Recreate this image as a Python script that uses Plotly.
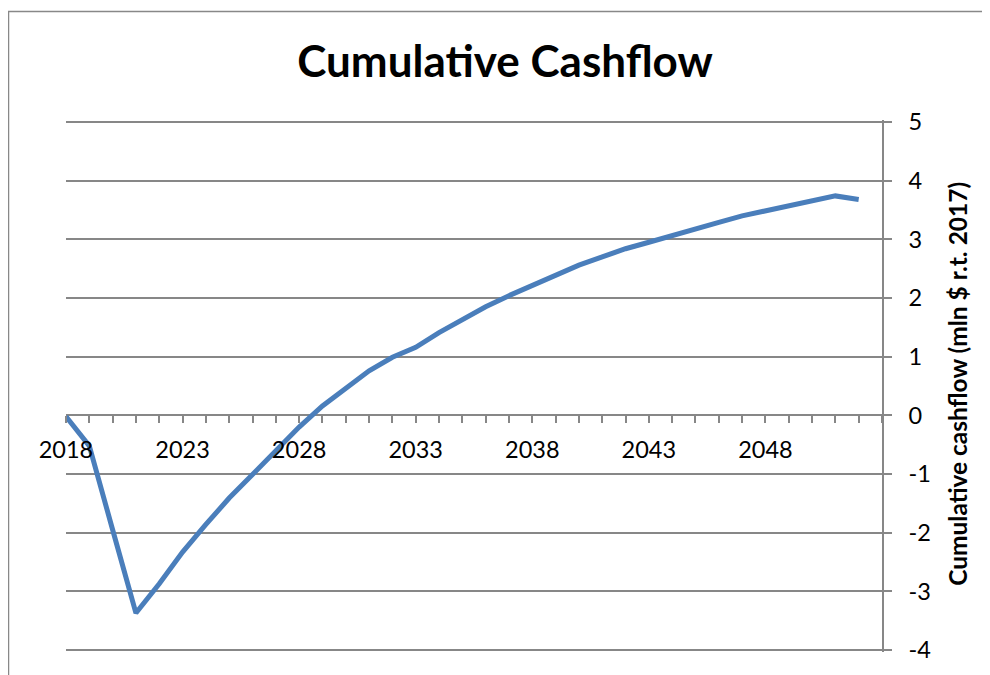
import plotly.graph_objects as go

years = list(range(2018, 2053))
cum_cashflow = [-0.02, -0.52, -1.95, -3.37, -2.87, -2.33, -1.86, -1.41, -1.01, -0.61,
                -0.20, 0.16, 0.47, 0.76, 0.99, 1.16, 1.41, 1.64, 1.85, 2.04,
                2.22, 2.39, 2.56, 2.70, 2.84, 2.95, 3.07, 3.18, 3.29, 3.40,
                3.49, 3.57, 3.66, 3.74, 3.68]

# category axis runs one year past the last data point
axis_years = list(range(2018, 2054))
axis_labels = [str(y) if (y - 2018) % 5 == 0 and y < 2053 else "" for y in axis_years]

y_ticks = list(range(-4, 6))
y_labels = [str(v) for v in y_ticks]  # plain hyphen minus, as in Excel

y_min, y_max = -4, 5
grey = "#878787"
font_name = "Lato, Carlito, Calibri, sans-serif"

# page body adds an 8px offset, so the figure is 8px smaller than the window
W, H = 982, 667

# plotly drops gridlines sitting right on the plot edge, so pad the range by 2px
ppu = 530 / (y_max - y_min)
pad = 2 / ppu

fig = go.Figure()

fig.add_trace(go.Scatter(
    x=years,
    y=cum_cashflow,
    mode="lines",
    line=dict(color="#4A7EBB", width=5),
    name="Cumulative cashflow",
    showlegend=False,
))

fig.update_layout(
    width=W, height=H,
    margin=dict(l=58, r=108, t=112, b=21),
    paper_bgcolor="white",
    plot_bgcolor="white",
    font=dict(family=font_name, color="black"),
    title=dict(
        text="<b>Cumulative Cashflow</b>",
        font=dict(size=44, family=font_name, color="black"),
        x=(505 - 8) / W, xanchor="center",
        y=1 - (62 - 8) / H, yanchor="middle",
    ),
    showlegend=False,
)

# x axis ticks sit on the zero line, like Excel's default crossing;
# the axis line itself is the y zeroline
fig.update_xaxes(
    range=[axis_years[0], axis_years[-1]],
    tickmode="array",
    tickvals=axis_years,
    ticktext=axis_labels,
    ticks="outside", ticklen=7, tickwidth=1.5, tickcolor=grey,
    tickfont=dict(size=23.5, family=font_name, color="black"),
    ticklabelstandoff=6,
    showline=False,
    showgrid=False, zeroline=False,
    anchor="free", position=(0 - (y_min - pad)) / (y_max - y_min + 2 * pad),
)

fig.update_yaxes(
    range=[y_min - pad, y_max + pad],
    tickmode="array",
    tickvals=y_ticks,
    ticktext=y_labels,
    side="right",
    ticks="outside", ticklen=8, tickwidth=1.5, tickcolor=grey,
    tickfont=dict(size=23.5, family=font_name, color="black"),
    ticklabelstandoff=12,
    showline=True, linecolor=grey, linewidth=1.5,
    showgrid=True, gridcolor=grey, gridwidth=1.5,
    zeroline=True, zerolinecolor=grey, zerolinewidth=1.5,
)

# axis title on the right
fig.add_annotation(
    text="<b>Cumulative cashflow (mln $ r.t. 2017)</b>",
    xref="paper", yref="paper",
    x=(958 - 66) / 816, y=0.504,
    xanchor="center", yanchor="middle",
    textangle=-90, showarrow=False,
    font=dict(size=24.5, family=font_name, color="black"),
)

# chart area border (left and top edges visible)
fig.add_shape(
    type="rect", xref="paper", yref="paper",
    x0=(8.5 - 66) / 816, x1=(1000 - 66) / 816,
    y0=(654 - 690) / 534, y1=(654 - 11) / 534,
    line=dict(color="#888888", width=1.5),
    fillcolor="rgba(0,0,0,0)",
    layer="below",
)

fig.write_html("out.html")
